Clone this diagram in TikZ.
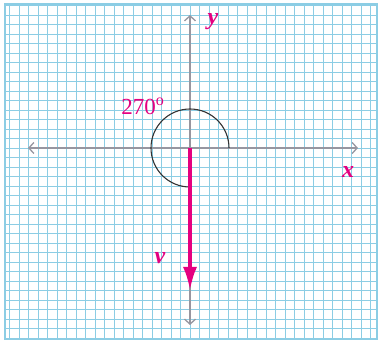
\documentclass[tikz,border=0pt]{standalone}
\usepackage{fontspec}
\setmainfont{Liberation Serif}
\usepackage{xcolor}
\usetikzlibrary{arrows.meta}

\definecolor{gridblue}{RGB}{140,205,228}
\definecolor{axisgray}{RGB}{150,150,160}
\definecolor{vecmag}{RGB}{228,0,128}

\begin{document}
\begin{tikzpicture}[x=1pt, y=1pt,
    gridline/.style={gridblue, line width=0.8pt},
    axis/.style={axisgray, line width=1.3pt, {Straight Barb[length=5,width=11]}-{Straight Barb[length=5,width=11]}},
    angarc/.style={black!80, line width=1.1pt},
    vec/.style={vecmag, line width=4pt, -{Latex[length=24,width=14]}},
    lbl/.style={vecmag, font=\fontsize{24}{28}\selectfont\bfseries\itshape, inner sep=0pt},
    ang/.style={vecmag, font=\fontsize{23}{27}\selectfont, inner sep=0pt}]

    \useasboundingbox (-190,-196) rectangle (192,148);

    % Grid paper
    \draw[gridline, step=9.5] (-185,-191) grid (187,144);
    \draw[gridline, line width=1.2pt] (-185,-191) rectangle (187,144);

    % Axes
    \coordinate (O) at (0,0);
    \coordinate (XL) at (-162,0);
    \coordinate (XR) at (168,0);
    \coordinate (YT) at (0,133);
    \coordinate (YB) at (0,-177);
    \coordinate (VE) at (0,-143);
    \draw[axis] (XL) -- (XR);
    \draw[axis] (YB) -- (YT);

    % Angle and vector
    \draw[angarc] (39,0) arc[start angle=0, end angle=270, radius=39];
    \draw[vec] (O) -- (VE);

    % Labels
    \node[lbl] (ylab) at (23,126) {y};
    \node[lbl] (xlab) at (158,-24) {x};
    \node[ang] (alab) at (-47,42) {270$^\mathrm{o}$};
    \node[lbl] (vlab) at (-30,-110) {v};
\end{tikzpicture}
\end{document}
